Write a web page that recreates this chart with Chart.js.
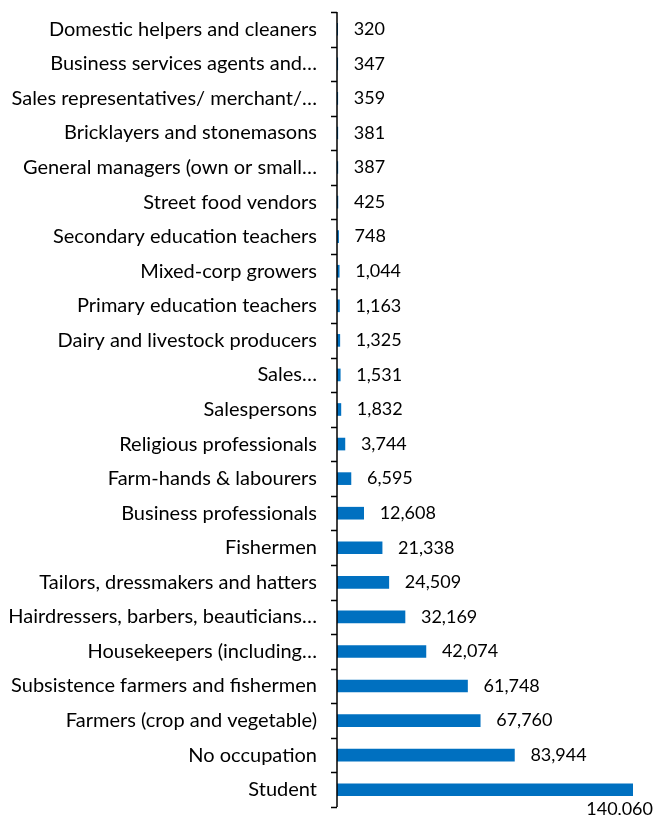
<!DOCTYPE html>
<html>
<head>
<meta charset="utf-8">
<script src="https://cdn.jsdelivr.net/npm/chart.js@4/dist/chart.umd.min.js"></script>
<style>
  html, body { margin: 0; padding: 0; background: #fff; }
  #wrap { width: 660px; height: 815px; }
</style>
</head>
<body>
<div id="wrap"><canvas id="myChart" width="660" height="815"></canvas></div>
<script>
// Ocupaciones, de arriba hacia abajo
const occupations = [
    "Domestic helpers and cleaners",
    "Business services agents and…",
    "Sales representatives/ merchant/…",
    "Bricklayers and stonemasons",
    "General managers (own or small…",
    "Street food vendors",
    "Secondary education teachers",
    "Mixed-corp growers",
    "Primary education teachers",
    "Dairy and livestock producers",
    "Sales…",
    "Salespersons",
    "Religious professionals",
    "Farm-hands & labourers",
    "Business professionals",
    "Fishermen",
    "Tailors, dressmakers and hatters",
    "Hairdressers, barbers, beauticians…",
    "Housekeepers (including…",
    "Subsistence farmers and fishermen",
    "Farmers (crop and vegetable)",
    "No occupation",
    "Student"
];
const people = [320, 347, 359, 381, 387, 425, 748, 1044, 1163, 1325, 1531, 1832,
    3744, 6595, 12608, 21338, 24509, 32169, 42074, 61748, 67760, 83944, 140060];

const fontFamily = "Lato, 'Open Sans', sans-serif";

// Etiquetas de valor al final de cada barra
const valueLabels = {
    id: "valueLabels",
    afterDatasetsDraw(chart) {
        const ctx = chart.ctx;
        const meta = chart.getDatasetMeta(0);
        ctx.save();
        ctx.font = "18px " + fontFamily;
        ctx.fillStyle = "#000";
        ctx.textBaseline = "middle";
        meta.data.forEach((bar, i) => {
            const text = people[i].toLocaleString("en-US");
            const w = ctx.measureText(text).width;
            let x = bar.x + 16;
            let y = bar.y;
            // si no cabe, se corre hacia abajo como en el original
            if (x + w > chart.width - 6) {
                x = chart.width - 7 - w;
                y = bar.y + 19;
            }
            ctx.fillText(text, x, y);
        });
        ctx.restore();
    }
};

// Marcas del eje entre categorías
const axisTicks = {
    id: "axisTicks",
    afterDraw(chart) {
        const ctx = chart.ctx;
        const yScale = chart.scales.y;
        const left = chart.chartArea.left;
        const half = (yScale.getPixelForValue(1) - yScale.getPixelForValue(0)) / 2;
        ctx.save();
        ctx.strokeStyle = "#000";
        ctx.lineWidth = 1.5;
        ctx.beginPath();
        for (let i = 0; i <= occupations.length; i++) {
            const y = Math.round(yScale.getPixelForValue(i) - half) + 0.5;
            ctx.moveTo(left - 6, y);
            ctx.lineTo(left, y);
        }
        ctx.moveTo(left, chart.chartArea.top);
        ctx.lineTo(left, chart.chartArea.bottom);
        ctx.stroke();
        ctx.restore();
    }
};

const myChart = document.querySelector("#myChart");
myChart.chart = new Chart(myChart, {
    type: "bar",
    data: {
        labels: occupations,
        datasets: [{
            data: people,
            backgroundColor: "#0070C0",
            barThickness: 12
        }]
    },
    options: {
        indexAxis: "y",
        responsive: false,
        animation: false,
        layout: { padding: { top: 12, bottom: 8, right: 27, left: 0 } },
        plugins: {
            legend: { display: false },
            tooltip: { enabled: false }
        },
        scales: {
            x: {
                display: false,
                min: 0,
                max: 140060
            },
            y: {
                afterFit: (scale) => {
                    scale.width = 337;
                    scale.paddingTop = 0;
                    scale.paddingBottom = 0;
                },
                border: { display: false },
                grid: { display: false, drawTicks: false },
                ticks: {
                    color: "#000",
                    padding: 20,
                    autoSkip: false,
                    font: { family: fontFamily, size: 20 }
                }
            }
        }
    },
    plugins: [valueLabels, axisTicks]
});
</script>
</body>
</html>
